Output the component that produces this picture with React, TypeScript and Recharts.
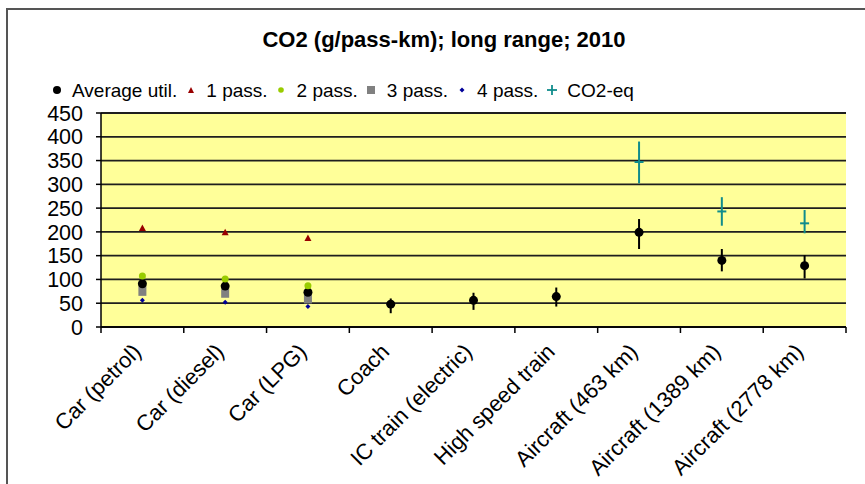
import React from 'react';
import { ComposedChart, Scatter, XAxis, YAxis, CartesianGrid, ErrorBar } from 'recharts';

const categories = [
  'Car (petrol)',
  'Car (diesel)',
  'Car (LPG)',
  'Coach',
  'IC train (electric)',
  'High speed train',
  'Aircraft (463 km)',
  'Aircraft (1389 km)',
  'Aircraft (2778 km)',
];
const avgUtil = [91, 86, 73, 48, 56, 64, 199, 140, 129];
const avgErrLow = [0, 0, 0, 19, 20, 21, 35, 23, 27];
const avgErrHigh = [0, 0, 0, 12, 16, 19, 28, 24, 22];
const carCategories = ['Car (petrol)', 'Car (diesel)', 'Car (LPG)'];
const onePass = [208, 199, 187];
const twoPass = [107, 101, 87];
const threePass = [76, 72, 60];
const fourPass = [56, 52, 43];
const aircraftCategories = ['Aircraft (463 km)', 'Aircraft (1389 km)', 'Aircraft (2778 km)'];
const co2eq = [347, 243, 218];
const co2eqErrLow = [45, 30, 21];
const co2eqErrHigh = [43, 30, 28];
const yTicks = [0, 50, 100, 150, 200, 250, 300, 350, 400, 450];

const title = 'CO2 (g/pass-km); long range; 2010';
const legendLabels = ['Average util.', '1 pass.', '2 pass.', '3 pass.', '4 pass.', 'CO2-eq'];

const FONT = '"Liberation Sans", Arial, sans-serif';
const C_AVG = '#000000';
const C_ONE = '#990000';
const C_TWO = '#99cc00';
const C_THREE = '#808080';
const C_FOUR = '#000099';
const C_CO2 = '#108c8c';

const chartData = categories.map((name) => ({ name }));
const avgData = categories.map((name, i) => ({ name, value: avgUtil[i], err: [avgErrLow[i], avgErrHigh[i]] }));
const oneData = carCategories.map((name, i) => ({ name, value: onePass[i] }));
const twoData = carCategories.map((name, i) => ({ name, value: twoPass[i] }));
const threeData = carCategories.map((name, i) => ({ name, value: threePass[i] }));
const fourData = carCategories.map((name, i) => ({ name, value: fourPass[i] }));
const co2Data = aircraftCategories.map((name, i) => ({ name, value: co2eq[i], err: [co2eqErrLow[i], co2eqErrHigh[i]] }));

const Dot = (p: any) => <circle cx={p.cx} cy={p.cy} r={4.5} fill={C_AVG} />;
const Tri = (p: any) => (
  <polygon points={`${p.cx - 3.5},${p.cy + 3} ${p.cx + 3.5},${p.cy + 3} ${p.cx},${p.cy - 3.5}`} fill={C_ONE} />
);
const Green = (p: any) => <circle cx={p.cx} cy={p.cy} r={3.5} fill={C_TWO} />;
const Square = (p: any) => <rect x={p.cx - 4} y={p.cy - 5} width={8} height={10} fill={C_THREE} />;
const Blue = (p: any) => (
  <polygon points={`${p.cx},${p.cy - 2.5} ${p.cx + 2.5},${p.cy} ${p.cx},${p.cy + 2.5} ${p.cx - 2.5},${p.cy}`} fill={C_FOUR} />
);
const Plus = (p: any) => (
  <line x1={p.cx - 4.5} x2={p.cx + 4.5} y1={p.cy} y2={p.cy} stroke={C_CO2} strokeWidth={2} />
);

const XTick = (props: any) => {
  const { x, y, payload, index } = props;
  const off = payload && payload.offset ? payload.offset : 0;
  const ax = x;
  const ay = y + 26;
  return (
    <g>
      <line x1={x - off} x2={x - off} y1={y} y2={y + 6} stroke="#000" strokeWidth={1.5} />
      {index === categories.length - 1 ? (
        <line x1={x + off} x2={x + off} y1={y} y2={y + 6} stroke="#000" strokeWidth={1.5} />
      ) : null}
      <text
        x={ax}
        y={ay}
        textAnchor="end"
        transform={`rotate(-45, ${ax}, ${ay})`}
        fontSize={22}
        fontFamily={FONT}
        fill="#000"
      >
        {payload.value}
      </text>
    </g>
  );
};

const LegendMarker = ({ i }: { i: number }) => (
  <svg width={14} height={14} style={{ display: 'block' }}>
    {i === 0 && <circle cx={7} cy={7} r={4} fill={C_AVG} />}
    {i === 1 && <polygon points="4,10 10,10 7,4" fill={C_ONE} />}
    {i === 2 && <circle cx={7} cy={7} r={2.8} fill={C_TWO} />}
    {i === 3 && <rect x={3} y={3} width={8} height={8} fill={C_THREE} />}
    {i === 4 && <polygon points="7,4.5 9.5,7 7,9.5 4.5,7" fill={C_FOUR} />}
    {i === 5 && (
      <g stroke={C_CO2} strokeWidth={1.8}>
        <line x1={2} x2={12} y1={7} y2={7} />
        <line x1={7} x2={7} y1={2} y2={12} />
      </g>
    )}
  </svg>
);

export default function App() {
  return (
    <div style={{ position: 'fixed', left: 0, top: 0, width: 865, height: 484, overflow: 'hidden', background: '#fff' }}>
      <div
        style={{
          position: 'absolute',
          left: 6,
          top: 8,
          width: 900,
          height: 520,
          border: '2px solid #555',
          boxSizing: 'border-box',
        }}
      />
      <div
        style={{
          position: 'absolute',
          left: 244,
          width: 400,
          top: 29,
          textAlign: 'center',
          fontFamily: FONT,
          fontWeight: 'bold',
          fontSize: 22,
          lineHeight: '22px',
          color: '#000',
          whiteSpace: 'nowrap',
        }}
      >
        {title}
      </div>
      <div
        style={{
          position: 'absolute',
          left: 49.5,
          top: 80.6,
          display: 'flex',
          alignItems: 'center',
          fontFamily: FONT,
          fontSize: 19,
          lineHeight: '19px',
          color: '#000',
          whiteSpace: 'nowrap',
        }}
      >
        {legendLabels.map((lab, i) => (
          <div key={lab} style={{ display: 'flex', alignItems: 'center', marginRight: 6.5 }}>
            <LegendMarker i={i} />
            <span style={{ marginLeft: 8.5 }}>{lab}</span>
          </div>
        ))}
      </div>
      <div style={{ position: 'absolute', left: 0, top: 0 }}>
        <ComposedChart width={865} height={484} data={chartData} margin={{ top: 113, right: 19, bottom: 0, left: 0 }}>
          <CartesianGrid vertical={false} stroke="#1e1e1e" strokeWidth={1.8} fill="#ffff99" fillOpacity={1} />
          <XAxis
            dataKey="name"
            type="category"
            scale="band"
            allowDuplicatedCategory={false}
            ticks={categories}
            height={157}
            interval={0}
            tickLine={false}
            tickSize={0}
            tickMargin={0}
            axisLine={{ stroke: '#000', strokeWidth: 1.5 }}
            tick={XTick}
          />
          <XAxis
            xAxisId="top"
            orientation="top"
            dataKey="name"
            type="category"
            scale="band"
            allowDuplicatedCategory={false}
            height={0}
            tick={false}
            tickLine={false}
            axisLine={{ stroke: '#9a9a9a', strokeWidth: 2 }}
          />
          <YAxis
            type="number"
            domain={[0, 450]}
            ticks={yTicks}
            interval={0}
            width={101}
            tickSize={5}
            tickMargin={13}
            tickLine={{ stroke: '#000', strokeWidth: 1.5 }}
            axisLine={{ stroke: '#000', strokeWidth: 1.5 }}
            tick={{ fontSize: 21.5, fill: '#000', fontFamily: FONT }}
          />
          <YAxis
            yAxisId="right"
            orientation="right"
            type="number"
            domain={[0, 450]}
            width={0}
            tick={false}
            tickLine={false}
            axisLine={{ stroke: '#9a9a9a', strokeWidth: 2 }}
          />
          <Scatter name="3 pass." data={threeData} dataKey="value" shape={Square} isAnimationActive={false} />
          <Scatter name="4 pass." data={fourData} dataKey="value" shape={Blue} isAnimationActive={false} />
          <Scatter name="Average util." data={avgData} dataKey="value" shape={Dot} isAnimationActive={false}>
            <ErrorBar dataKey="err" direction="y" width={0} stroke={C_AVG} strokeWidth={2} />
          </Scatter>
          <Scatter name="2 pass." data={twoData} dataKey="value" shape={Green} isAnimationActive={false} />
          <Scatter name="1 pass." data={oneData} dataKey="value" shape={Tri} isAnimationActive={false} />
          <Scatter name="CO2-eq" data={co2Data} dataKey="value" shape={Plus} isAnimationActive={false}>
            <ErrorBar dataKey="err" direction="y" width={0} stroke={C_CO2} strokeWidth={2} />
          </Scatter>
        </ComposedChart>
      </div>
    </div>
  );
}
